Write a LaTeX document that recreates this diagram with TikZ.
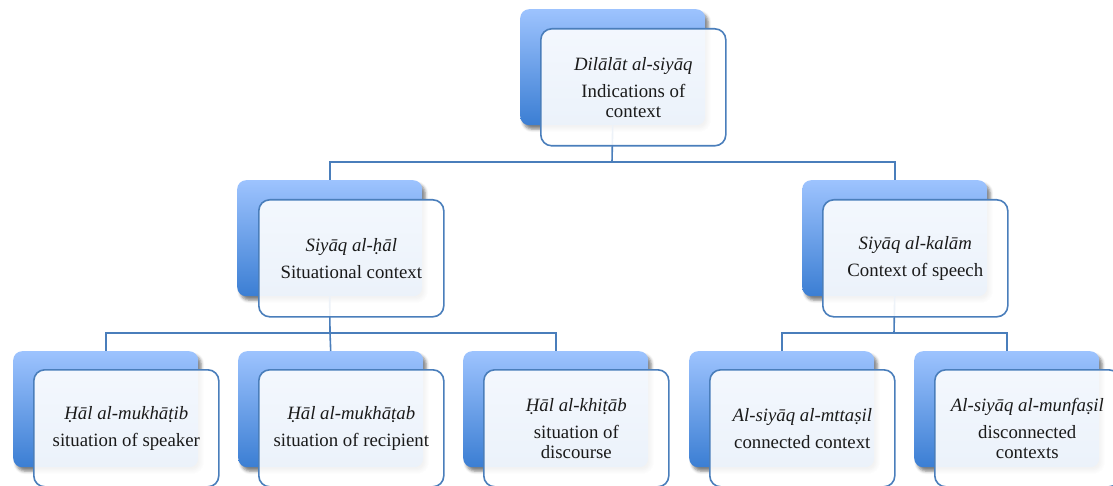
\documentclass[tikz,border=0pt]{standalone}
\usepackage{fontspec}
\setmainfont{Liberation Serif}
\usetikzlibrary{shadows.blur}
\definecolor{backtop}{HTML}{9DC3FE}
\definecolor{backbottom}{HTML}{3B7ED3}
\definecolor{accent}{HTML}{4A7EBB}
\definecolor{textc}{HTML}{1A1A1A}
\tikzset{
  backbox/.style={rectangle, rounded corners=9pt, minimum width=185pt,
    minimum height=116pt, anchor=north west, inner sep=0pt,
    top color=backtop, bottom color=backbottom,
    blur shadow={shadow xshift=3pt, shadow yshift=-4pt,
      shadow blur radius=3pt, shadow opacity=50}},
  frontbox/.style={rectangle, rounded corners=11pt, minimum width=185pt,
    minimum height=117pt, anchor=north west, inner sep=0pt,
    draw=accent, line width=1.6pt, fill=white, fill opacity=0.9,
    text opacity=1, align=center, text=textc,
    font=\fontsize{18.8}{20}\selectfont},
  link/.style={draw=accent, line width=1.6pt},
}
\newcommand{\entry}[2]{{\itshape #1}\\[7pt]#2}
\begin{document}
\begin{tikzpicture}[x=1pt, y=-1pt]
\useasboundingbox (0,0) rectangle (1113,486);

% bus lines between levels
\coordinate (busA) at (612,162);
\coordinate (busB) at (330,333);
\coordinate (busC) at (894,333);

% back plates
\node[backbox] (topB) at (520,9) {};
\node[backbox] (hB) at (237,180) {};
\node[backbox] (kB) at (802,180) {};
\node[backbox] (s1B) at (13,351) {};
\node[backbox] (s2B) at (238,351) {};
\node[backbox] (s3B) at (463,351) {};
\node[backbox] (s4B) at (689,351) {};
\node[backbox] (s5B) at (914,351) {};

% connectors (under the front cards)
\draw[link] (topB.south) -- (busA);
\draw[link] (busA) -| (hB.north);
\draw[link] (busA) -| (kB.north);
\draw[link] (hB.south) -- (busB);
\draw[link] (busB) -| (s1B.north);
\draw[link] (busB) -| (s3B.north);
\draw[link] (busB) -- (s2B.north);
\draw[link] (kB.south) -- (busC);
\draw[link] (busC) -| (s4B.north);
\draw[link] (busC) -| (s5B.north);

% front cards
\node[frontbox] (top) at (540,28) {\entry{Dilālāt al-siyāq}{Indications of\\context}};
\node[frontbox] (h) at (258,199) {\entry{Siyāq al-ḥāl}{Situational context}};
\node[frontbox] (k) at (822,199) {\entry{Siyāq al-kalām}{Context of speech}};
\node[frontbox] (s1) at (33,369) {\entry{Ḥāl al-mukhāṭib}{situation of speaker}};
\node[frontbox] (s2) at (258,369) {\entry{Ḥāl al-mukhāṭab}{situation of recipient}};
\node[frontbox] (s3) at (483,369) {\entry{Ḥāl al-khiṭāb}{situation of\\discourse}};
\node[frontbox] (s4) at (709,369) {\entry{Al-siyāq al-mttaṣil}{connected context}};
\node[frontbox] (s5) at (934,369) {\entry{Al-siyāq al-munfaṣil}{disconnected\\contexts}};
\end{tikzpicture}
\end{document}
